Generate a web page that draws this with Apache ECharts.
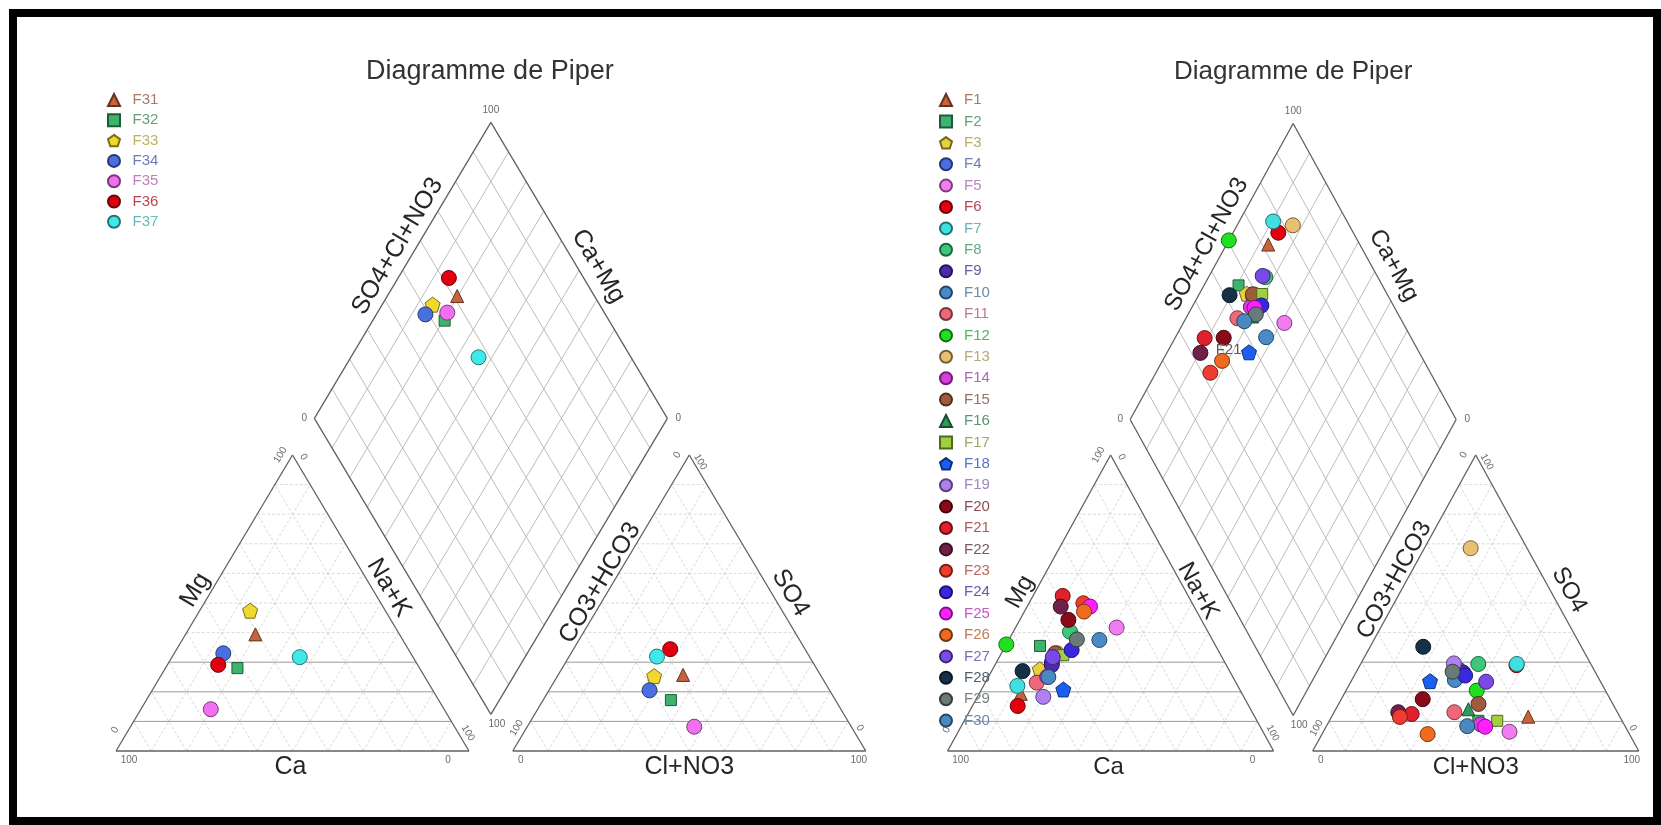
<!DOCTYPE html>
<html>
<head>
<meta charset="utf-8">
<script src="https://cdn.jsdelivr.net/npm/echarts/dist/echarts.min.js"></script>
<style>
html,body{margin:0;padding:0;background:#ffffff;}
#chart{width:1661px;height:825px;}
</style>
</head>
<body>
<div id="chart"></div>
<script>
// ---------------- DATA (percent of meq) ----------------
// Left Piper diagram (F31..F37)
const leftNames = ['F31','F32','F33','F34','F35','F36','F37'];
const leftCa  = [40.8, 51.6, 38.3, 53.1, 66.1, 56.5, 32.1];
const leftMg  = [39.4, 28.0, 47.4, 33.0, 14.1, 29.1, 31.7];
const leftSO4 = [25.7, 17.2, 25.3, 20.5,  8.2, 34.4, 31.9];
const leftCl  = [35.4, 36.2, 27.4, 28.5, 47.3, 27.4, 24.9];

// Right Piper diagram (F1..F30)
const rightNames = ['F1','F2','F3','F4','F5','F6','F7','F8','F9','F10','F11','F12','F13','F14','F15',
                    'F16','F17','F18','F19','F20','F21','F22','F23','F24','F25','F26','F27','F28','F29','F30'];
const rightCa  = [67.9, 53.9, 57.9, 53.0, 27.3, 70.9, 67.6, 42.3, 53.5, 34.7, 61.1, 64.0, 49.9, 56.9, 50.5,
                  46.0, 48.3, 54.1, 61.5, 40.8, 38.5, 40.9, 33.4, 44.9, 31.9, 34.6, 51.9, 63.5, 41.5, 56.6];
const rightMg  = [19.3, 35.5, 27.6, 30.0, 41.7, 15.2, 22.0, 40.3, 29.1, 37.5, 23.1, 36.0, 33.0, 25.1, 33.0,
                  34.0, 32.4, 20.8, 18.3, 44.3, 52.4, 48.8, 49.9, 34.1, 48.8, 47.1, 31.7, 27.0, 37.7, 25.0];
const rightSO4 = [11.6, 10.2, 27.0, 27.5,  6.5, 29.0, 29.4, 29.4, 26.5, 24.0, 13.1, 20.4, 68.5,  9.0, 15.9,
                  14.1, 10.2, 23.6, 29.6, 17.5, 12.5, 13.1, 11.5, 25.5,  8.2,  5.7, 23.4, 35.2, 26.8,  8.4];
const rightCl  = [60.3, 45.7, 30.0, 31.0, 57.1, 48.0, 47.9, 36.1, 32.9, 31.6, 36.9, 40.1, 14.2, 47.0, 42.9,
                  40.7, 51.5, 24.2, 28.5, 25.0, 24.1, 19.7, 21.0, 34.0, 48.8, 32.4, 41.5, 16.3, 29.5, 43.2];

const tickMin = '0', tickMax = '100';
const diagramTitle = 'Diagramme de Piper';
const labelledSample = 'F21';

// ---------------- STYLES ----------------
const leftColors = ['#c8643c','#3cb46e','#f0d830','#4a6fe0','#f070f0','#e00010','#40e8e8'];
const leftSymbols = ['triangle','rect','pentagon','circle','circle','circle','circle'];
const rightColors = ['#c8643c','#3cb46e','#e8d040','#4a6fe0','#f07cf0','#e00010','#40e0e0','#3cc878','#4b2ab0','#4a8ac8',
                     '#f06878','#20e020','#e8c070','#d83ce0','#a05a3c','#2e9a5a','#a0d040','#1a5ff0','#b080f0','#8a0a1a',
                     '#e0202a','#702048','#f03c30','#3a28e0','#ff20ff','#f06a20','#7a4ae8','#163048','#6a7a78','#4a88c0'];
const rightSymbols = rightNames.map(n => (n==='F1'||n==='F16') ? 'triangle' : (n==='F2'||n==='F17') ? 'rect' : (n==='F3'||n==='F18') ? 'pentagon' : 'circle');

const FONT = "'Liberation Sans', Arial, Helvetica, sans-serif";
const PENTAGON = 'path://M0,-10L9.51,-3.09L5.88,8.09L-5.88,8.09L-9.51,-3.09Z';
const SYMBOL_SIZE = {circle:15, triangle:13, rect:11, pentagon:15};

function rgb(hex){const n=parseInt(hex.slice(1),16);return [(n>>16)&255,(n>>8)&255,n&255];}
function shade(hex,f){const c=rgb(hex);return 'rgb('+c.map(v=>Math.round(v*f)).join(',')+')';}
function mix(hex,hex2,t){const a=rgb(hex),b=rgb(hex2);return 'rgb('+a.map((v,i)=>Math.round(v*(1-t)+b[i]*t)).join(',')+')';}

const PANELS = [
  {left:116, bottom:751, side:353, height:296, gap:12.4,
   names:leftNames, ca:leftCa, mg:leftMg, so4:leftSO4, cl:leftCl, colors:leftColors, symbols:leftSymbols,
   titleSize:27, axisSize:25, legendLeft:107, legendGap:5.3, legendPad:7.5,
   off:{Ca:[-2,16],Mg:[-9,-13],NaK:[8,-15],Cl:[0,16],HCO3:[-1,-20],SO4:[13,-10],SCl:[-5,-24],CaMg:[19,-4],title:[-1,-51]}},
  {left:947.6, bottom:751, side:326, height:296, gap:12,
   names:rightNames, ca:rightCa, mg:rightMg, so4:rightSO4, cl:rightCl, colors:rightColors, symbols:rightSymbols,
   titleSize:26, axisSize:24, legendLeft:939, legendGap:6.4, legendPad:7,
   off:{Ca:[-2,16],Mg:[-9,-11],NaK:[6,-12],Cl:[0,16],HCO3:[0,-23],SO4:[12,-13],SCl:[-5,-27],CaMg:[19,-6],title:[0,-52]}}
];

// ---------------- PIPER TRANSFORMS (data units: side = 100, triangle height = 100) ----------------
function cationXY(ca,mg){return [100-ca-mg/2, mg];}
function anionXY(so4,cl,G){return [100+G+cl+so4/2, so4];}
function diamondXY(cm,sc,G){return [100+G/2+0.5*(sc-cm), G+sc+cm];}

function buildGeometry(G){
  const light=[], dark=[], dia=[], border=[];
  const o=100+G;
  for(let k=10;k<=90;k+=10){
    (k<=30?dark:light).push([k/2,k,100-k/2,k]);
    light.push([100-k,0,(100-k)/2,100-k]);
    light.push([k,0,k+(100-k)/2,100-k]);
    (k<=30?dark:light).push([o+k/2,k,o+100-k/2,k]);
    light.push([o+k,0,o+k+(100-k)/2,100-k]);
    light.push([o+100-k,0,o+(100-k)/2,100-k]);
    dia.push([...diamondXY(k,0,G),...diamondXY(k,100,G)]);
    dia.push([...diamondXY(0,k,G),...diamondXY(100,k,G)]);
  }
  const CL=[0,0],CR=[100,0],CT=[50,100],AL=[o,0],AR=[o+100,0],AT=[o+50,100];
  const DB=diamondXY(0,0,G),DL=diamondXY(100,0,G),DR=diamondXY(0,100,G),DT=diamondXY(100,100,G);
  [[CL,CR],[CR,CT],[CT,CL],[AL,AR],[AR,AT],[AT,AL],[DB,DL],[DL,DT],[DT,DR],[DR,DB]].forEach(e=>border.push([...e[0],...e[1]]));
  return {light,dark,dia,border,CL,CR,CT,AL,AR,AT,DB,DL,DR,DT};
}
function mid(a,b){return [(a[0]+b[0])/2,(a[1]+b[1])/2];}

function segSeries(i,segs,style,z){
  return {type:'custom', xAxisIndex:i, yAxisIndex:i, clip:false, silent:true, z:z, animation:false,
    encode:{x:[0,2],y:[1,3]}, data:segs,
    renderItem:(params,api)=>{
      const p1=api.coord([api.value(0),api.value(1)]), p2=api.coord([api.value(2),api.value(3)]);
      return {type:'line', shape:{x1:p1[0],y1:p1[1],x2:p2[0],y2:p2[1]}, style:Object.assign({fill:null},style)};
    }};
}
function textSeries(i,texts){
  return {type:'custom', xAxisIndex:i, yAxisIndex:i, clip:false, silent:true, z:2, animation:false,
    encode:{x:0,y:1}, data:texts.map(t=>t.at),
    renderItem:(params,api)=>{
      const t=texts[params.dataIndex]; const c=api.coord(t.at);
      return {type:'text', x:c[0]+t.dx, y:c[1]+t.dy, rotation:t.rot*Math.PI/180,
        style:{text:t.text, font:t.size+'px '+FONT, fill:t.color, align:'center', verticalAlign:'middle'}};
    }};
}

const grids=[], xAxes=[], yAxes=[], series=[], legends=[];
PANELS.forEach((p,i)=>{
  const span=2+p.gap/100;
  grids.push({left:p.left, top:p.bottom-p.height*span, width:p.side*span, height:p.height*span});
  xAxes.push({type:'value', gridIndex:i, min:0, max:200+p.gap, show:false});
  yAxes.push({type:'value', gridIndex:i, min:0, max:200+p.gap, show:false});
  const g=buildGeometry(p.gap);
  series.push(segSeries(i,g.light,{stroke:'#cfcfcf',lineWidth:0.8,lineDash:[3,2]},1));
  series.push(segSeries(i,g.dark,{stroke:'#9a9a9a',lineWidth:1},1));
  series.push(segSeries(i,g.dia,{stroke:'#b4b4b4',lineWidth:0.9},1));
  series.push(segSeries(i,g.border,{stroke:'#606060',lineWidth:1.3},2));
  const ang=Math.atan2(p.height,p.side/2)*180/Math.PI;
  const T=(text,at,dx,dy,rot,size,color)=>({text,at,dx,dy,rot,size,color});
  const tc='#6a6a6a', ts=10, ac='#262626';
  const texts=[
    T(tickMax,g.CL,13,9,0,ts,tc), T(tickMin,g.CR,-21,9,0,ts,tc), T(tickMin,g.CL,-1,-21,ang,ts,tc),
    T(tickMax,g.CT,-12,0,ang,ts,tc), T(tickMin,g.CT,11,2,-ang,ts,tc), T(tickMax,g.CR,-1,-18,-ang,ts,tc),
    T(tickMin,g.AL,8,9,0,ts,tc), T(tickMax,g.AR,-7,9,0,ts,tc), T(tickMax,g.AL,4,-23,ang,ts,tc),
    T(tickMin,g.AT,-12,0,ang,ts,tc), T(tickMax,g.AT,11,7,-ang,ts,tc), T(tickMin,g.AR,-6,-23,-ang,ts,tc),
    T(tickMax,g.DT,0,-12,0,ts,tc), T(tickMin,g.DL,-10,0,0,ts,tc), T(tickMin,g.DR,11,0,0,ts,tc), T(tickMax,g.DB,6,10,0,ts,tc),
    T('Ca',mid(g.CL,g.CR),p.off.Ca[0],p.off.Ca[1],0,p.axisSize,ac),
    T('Mg',mid(g.CL,g.CT),p.off.Mg[0],p.off.Mg[1],ang,p.axisSize,ac),
    T('Na+K',mid(g.CR,g.CT),p.off.NaK[0],p.off.NaK[1],-ang,p.axisSize,ac),
    T('Cl+NO3',mid(g.AL,g.AR),p.off.Cl[0],p.off.Cl[1],0,p.axisSize,ac),
    T('CO3+HCO3',mid(g.AL,g.AT),p.off.HCO3[0],p.off.HCO3[1],ang,p.axisSize,ac),
    T('SO4',mid(g.AR,g.AT),p.off.SO4[0],p.off.SO4[1],-ang,p.axisSize,ac),
    T('SO4+Cl+NO3',mid(g.DL,g.DT),p.off.SCl[0],p.off.SCl[1],ang,p.axisSize,ac),
    T('Ca+Mg',mid(g.DT,g.DR),p.off.CaMg[0],p.off.CaMg[1],-ang,p.axisSize,ac),
    T(diagramTitle,g.DT,p.off.title[0],p.off.title[1],0,p.titleSize,'#333333')
  ];
  series.push(textSeries(i,texts));

  const legendData=[];
  p.names.forEach((name,j)=>{
    const ca=p.ca[j], mg=p.mg[j], so4=p.so4[j], cl=p.cl[j];
    const pts=[cationXY(ca,mg), anionXY(so4,cl,p.gap), diamondXY(ca+mg,so4+cl,p.gap)];
    const data=pts.map(v=>({value:v}));
    if(name===labelledSample){
      data[2].label={show:true, formatter:name, position:'right', offset:[-2,12], color:'#5a5a5a', fontSize:15, fontFamily:FONT};
    }
    const sym=p.symbols[j], col=p.colors[j];
    series.push({type:'scatter', name:name, xAxisIndex:i, yAxisIndex:i, silent:true, animation:false, z:3,
      symbol: sym==='pentagon'?PENTAGON:sym, symbolSize:SYMBOL_SIZE[sym],
      itemStyle:{color:col, borderColor:shade(col,0.5), borderWidth:1, opacity:1},
      emphasis:{disabled:true}, data:data});
    legendData.push({name:name, textStyle:{color:mix(col,'#8c8c8c',0.5)}});
  });
  legends.push({data:legendData, orient:'vertical', left:p.legendLeft, top:92.5, padding:0,
    itemWidth:12, itemHeight:12, itemGap:p.legendGap, selectedMode:false,
    textStyle:{fontSize:15, fontFamily:FONT, lineHeight:12, padding:[0,0,0,p.legendPad]}});
});

const chart=echarts.init(document.getElementById('chart'),null,{renderer:'canvas'});
chart.setOption({
  backgroundColor:'#ffffff',
  animation:false,
  grid:grids, xAxis:xAxes, yAxis:yAxes, legend:legends, series:series,
  graphic:[{type:'rect', silent:true, z:100, shape:{x:13,y:13,width:1644,height:808}, style:{fill:'none',stroke:'#000000',lineWidth:8}}]
});
</script>
</body>
</html>
